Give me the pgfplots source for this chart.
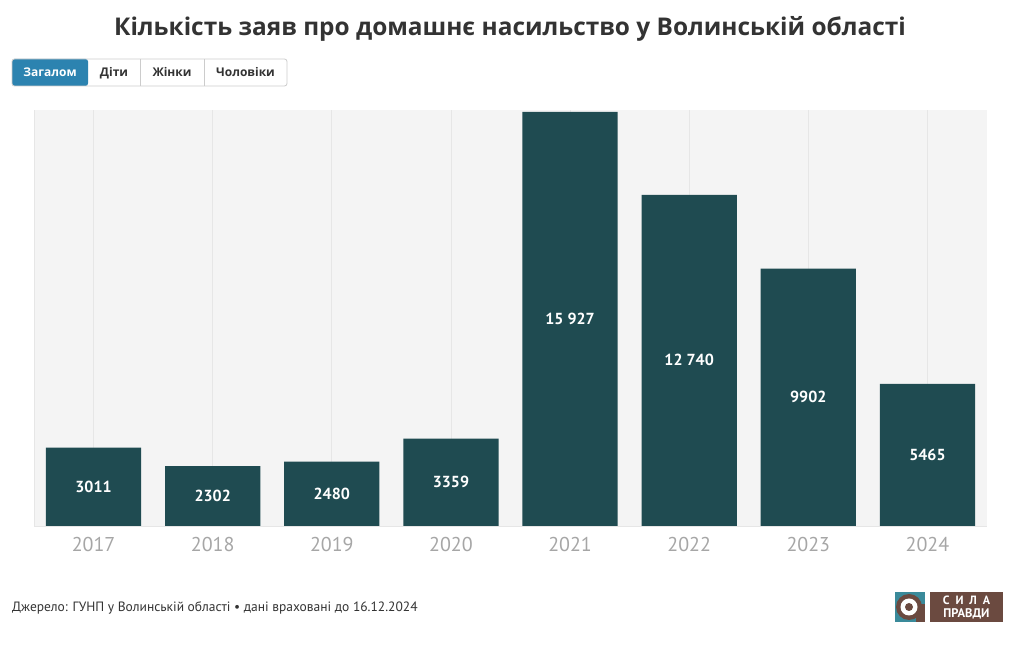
\documentclass[border=0pt]{standalone}
\usepackage{pgfplots}
\pgfplotsset{compat=1.18}
\usepackage{pgfplotstable}
\usepackage{fontspec}
\setmainfont{PT Sans}
\newfontfamily\opensans{Open Sans}
\definecolor{barcol}{HTML}{1F4B51}
\definecolor{bgcol}{HTML}{F4F4F4}
\definecolor{gridcol}{HTML}{E6E6E6}
\definecolor{titlecol}{HTML}{333333}
\definecolor{yearcol}{HTML}{A6A6A6}
\definecolor{btnblue}{HTML}{2C83B0}
\definecolor{btnborder}{HTML}{CCCCCC}
\definecolor{logobrown}{HTML}{6B4A40}
\definecolor{logoteal}{HTML}{3A8A9A}

\pgfplotstableread[col sep=comma]{
x,year,y,label
0,2017,3011,3011
1,2018,2302,2302
2,2019,2480,2480
3,2020,3359,3359
4,2021,15927,15 927
5,2022,12740,12 740
6,2023,9902,9902
7,2024,5465,5465
}\datatable

\begin{document}
\begin{tikzpicture}[x=1pt,y=1pt]
\path[use as bounding box, fill=white] (0,0) rectangle (1020,650);
% title
\node[font=\opensans\bfseries\fontsize{24.4}{28}\selectfont, text=titlecol] at (510,621) {Кількість заяв про домашнє насильство у Волинській області};
% buttons
\fill[btnblue, rounded corners=2.5pt] (12,564) rectangle (88,591);
\draw[btnborder, line width=0.8pt, rounded corners=2.5pt] (12,564) rectangle (287,591);
\draw[btnborder, line width=0.8pt] (140,564) -- (140,591) (204,564) -- (204,591);
\begin{scope}[font=\opensans\bfseries\fontsize{12}{14}\selectfont, every node/.style={anchor=base, inner sep=0pt}]
\node[text=white] at (50,573.2) {Загалом};
\node[text=titlecol] at (114,573.2) {Діти};
\node[text=titlecol] at (172,573.2) {Жінки};
\node[text=titlecol] at (245.5,573.2) {Чоловіки};
\end{scope}
% chart
\begin{axis}[
  at={(34pt,124pt)}, anchor=south west, scale only axis,
  width=953pt, height=416pt,
  xmin=-0.5, xmax=7.5, ymin=0, ymax=16000,
  axis background/.style={fill=bgcol},
  axis line style={draw=none},
  xtick=data, xticklabels={2017,2018,2019,2020,2021,2022,2023,2024},
  ytick=\empty,
  major tick length=0pt,
  xmajorgrids, major grid style={draw=gridcol, line width=0.8pt},
  xticklabel style={font=\fontsize{20}{24}\selectfont, text=yearcol, yshift=-8pt},
  /pgf/number format/assume math mode=true,
  clip=false,
]
\addplot[ybar, bar shift=0pt, bar width=0.8, fill=barcol, draw=none] table[x=x, y=y]{\datatable};
\addplot[draw=none, mark=none, nodes near coords, point meta=explicit symbolic,
  nodes near coords style={font=\bfseries\fontsize{16}{18}\selectfont, text=white, anchor=center}]
  table[x=x, y expr=\thisrow{y}/2, meta=label]{\datatable};
\draw[gridcol, line width=0.8pt] (rel axis cs:0,0) -- (rel axis cs:1,0);
\draw[gridcol, line width=0.8pt] (rel axis cs:0,0) -- (rel axis cs:0,1);
\end{axis}
% footer
\node[anchor=west, font=\fontsize{13.5}{15}\selectfont, text=titlecol, inner sep=0pt] at (12,42) {Джерело: ГУНП у Волинській області • дані враховані до 16.12.2024};
% logo
\fill[logoteal] (895,28) rectangle (925,58);
\fill[logobrown] (909,43) circle (13);
\fill[logobrown] (916,28) rectangle (925,46);
\fill[white] (909,43) circle (8.5);
\fill[logobrown] (909,43) circle (4);
\fill[logobrown] (930,28) rectangle (1003,58);
\node[text=white, font=\bfseries\fontsize{12}{13}\selectfont] at (966.5,50) {С\hspace{0.5em}И\hspace{0.5em}Л\hspace{0.5em}А};
\node[text=white, font=\bfseries\fontsize{12.5}{13}\selectfont] at (966.5,36) {ПРАВДИ};
\end{tikzpicture}
\end{document}
